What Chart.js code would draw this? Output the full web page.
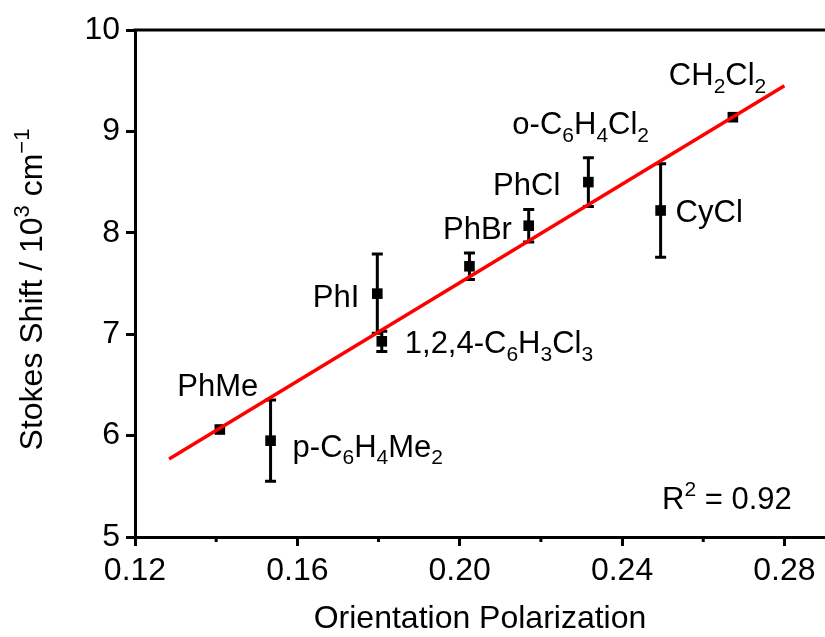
<!DOCTYPE html>
<html>
<head>
<meta charset="utf-8">
<script src="https://cdn.jsdelivr.net/npm/chart.js@4"></script>
<style>
  html, body { margin: 0; padding: 0; background: #fff; }
</style>
</head>
<body>
<canvas id="chart" width="825" height="637"></canvas>
<script>
// data
const solvents = ['PhMe', 'p-C_6H_4Me_2', 'PhI', '1,2,4-C_6H_3Cl_3', 'PhBr', 'PhCl', 'o-C_6H_4Cl_2', 'CyCl', 'CH_2Cl_2']
const polarization = [0.1409, 0.1534, 0.1797, 0.1808, 0.2024, 0.2170, 0.2317, 0.2495, 0.2673]
const stokesShift = [6.06, 5.95, 7.40, 6.93, 7.67, 8.07, 8.50, 8.22, 9.14]
const shiftError = [0, 0.40, 0.39, 0.10, 0.13, 0.16, 0.24, 0.46, 0]
const fitX = [0.1284, 0.28]
const fitY = [5.77, 9.45]
const xTicks = [0.12, 0.16, 0.20, 0.24, 0.28]
const xMinorTicks = [0.14, 0.18, 0.22, 0.26]
const yTicks = [5, 6, 7, 8, 9, 10]
const rSquared = 'R^2 = 0.92'

// label placement, px from the point: [dx, dy, align]
const labelPos = [
  [-2, -34, 'center'], [22, 16, 'left'], [-18, 13, 'right'], [23, 12, 'left'],
  [8, -27, 'center'], [-2, -31, 'center'], [-76, -48, 'left'], [15, 12, 'left'], [-64, -32, 'left']
]

const FONT = '"Liberation Sans", Arial, sans-serif'

// '_' = next char subscript, '^' = superscript (single char or {...})
const parseRich = str => {
  const runs = []
  let i = 0
  while (i < str.length) {
    const c = str[i]
    if (c === '_' || c === '^') {
      let txt
      if (str[i + 1] === '{') {
        const end = str.indexOf('}', i)
        txt = str.slice(i + 2, end)
        i = end + 1
      } else {
        txt = str[i + 1]
        i += 2
      }
      runs.push({ t: txt, k: c === '_' ? 'sub' : 'sup' })
    } else {
      const last = runs[runs.length - 1]
      if (last && last.k === 'n') last.t += c
      else runs.push({ t: c, k: 'n' })
      i++
    }
  }
  return runs
}

const drawRich = (ctx, str, x, y, size, align) => {
  const runs = parseRich(str)
  const small = Math.round(size * 0.68)
  let w = 0
  runs.forEach(r => {
    ctx.font = (r.k === 'n' ? size : small) + 'px ' + FONT
    r.w = ctx.measureText(r.t).width
    w += r.w
  })
  let cx = align === 'center' ? x - w / 2 : align === 'right' ? x - w : x
  ctx.textAlign = 'left'
  ctx.textBaseline = 'alphabetic'
  ctx.fillStyle = '#000'
  runs.forEach(r => {
    ctx.font = (r.k === 'n' ? size : small) + 'px ' + FONT
    const dy = r.k === 'sub' ? size * 0.24 : r.k === 'sup' ? -size * 0.42 : 0
    ctx.fillText(r.t, cx, y + dy)
    cx += r.w
  })
}

const extras = {
  id: 'extras',
  beforeDatasetsDraw (chart) {
    const { ctx, scales: { x, y } } = chart
    ctx.save()
    ctx.strokeStyle = '#000'
    ctx.lineWidth = 3
    polarization.forEach((p, i) => {
      if (!shiftError[i]) return
      const px = x.getPixelForValue(p)
      const top = y.getPixelForValue(stokesShift[i] + shiftError[i])
      const bot = y.getPixelForValue(stokesShift[i] - shiftError[i])
      ctx.beginPath()
      ctx.moveTo(px, top); ctx.lineTo(px, bot)
      ctx.moveTo(px - 5.5, top); ctx.lineTo(px + 5.5, top)
      ctx.moveTo(px - 5.5, bot); ctx.lineTo(px + 5.5, bot)
      ctx.stroke()
    })
    ctx.restore()
  },
  afterDraw (chart) {
    const { ctx, chartArea: a, scales: { x, y } } = chart
    ctx.save()
    ctx.strokeStyle = '#000'
    ctx.lineWidth = 3
    // top frame line
    ctx.beginPath()
    ctx.moveTo(a.left - 1.5, a.top)
    ctx.lineTo(a.right, a.top)
    ctx.stroke()
    // minor x ticks
    xMinorTicks.forEach(v => {
      const px = x.getPixelForValue(v)
      ctx.beginPath()
      ctx.moveTo(px, a.bottom)
      ctx.lineTo(px, a.bottom + 5)
      ctx.stroke()
    })
    // point labels
    solvents.forEach((s, i) => {
      const px = x.getPixelForValue(polarization[i])
      const py = y.getPixelForValue(stokesShift[i])
      const [dx, dy, al] = labelPos[i]
      drawRich(ctx, s, px + dx, py + dy, 31, al)
    })
    drawRich(ctx, rSquared, a.right - 163, a.bottom - 28, 31, 'left')
    // axis titles
    drawRich(ctx, 'Orientation Polarization', (a.left + a.right) / 2, 628, 32, 'center')
    ctx.translate(42, (a.top + a.bottom) / 2 + 6)
    ctx.rotate(-Math.PI / 2)
    drawRich(ctx, 'Stokes Shift / 10^3 cm^{\u22121}', 0, 0, 32, 'center')
    ctx.restore()
  }
}

const axisFont = { family: FONT, size: 32 }

new Chart(document.getElementById('chart'), {
  data: {
    datasets: [
      {
        type: 'line',
        data: fitX.map((v, i) => ({ x: v, y: fitY[i] })),
        borderColor: '#ff0000',
        borderWidth: 3.5,
        pointRadius: 0,
        order: 0
      },
      {
        type: 'scatter',
        data: polarization.map((v, i) => ({ x: v, y: stokesShift[i] })),
        pointStyle: 'rect',
        pointRadius: 7.5,
        pointBorderWidth: 0,
        backgroundColor: '#000',
        borderColor: '#000',
        order: 1
      }
    ]
  },
  options: {
    responsive: false,
    animation: false,
    devicePixelRatio: 1,
    layout: { padding: { top: 30, right: 0, left: 0, bottom: 0 }, autoPadding: false },
    plugins: { legend: { display: false }, tooltip: { enabled: false } },
    scales: {
      x: {
        type: 'linear',
        min: 0.12,
        max: 0.29,
        afterBuildTicks: s => { s.ticks = xTicks.map(v => ({ value: v })) },
        afterFit: s => { s.height = 100 },
        border: { display: true, color: '#000', width: 3 },
        grid: { display: true, drawOnChartArea: false, drawTicks: true, tickLength: 9, color: '#000', lineWidth: 3 },
        ticks: { color: '#000', font: axisFont, padding: 6, maxRotation: 0, callback: v => v.toFixed(2) }
      },
      y: {
        type: 'linear',
        min: 5,
        max: 10,
        afterBuildTicks: s => { s.ticks = yTicks.map(v => ({ value: v })) },
        afterFit: s => { s.width = 135 },
        border: { display: true, color: '#000', width: 3 },
        grid: { display: true, drawOnChartArea: false, drawTicks: true, tickLength: 9, color: '#000', lineWidth: 3 },
        ticks: { color: '#000', font: axisFont, padding: 6, callback: v => String(v) }
      }
    }
  },
  plugins: [extras]
})
</script>
</body>
</html>
